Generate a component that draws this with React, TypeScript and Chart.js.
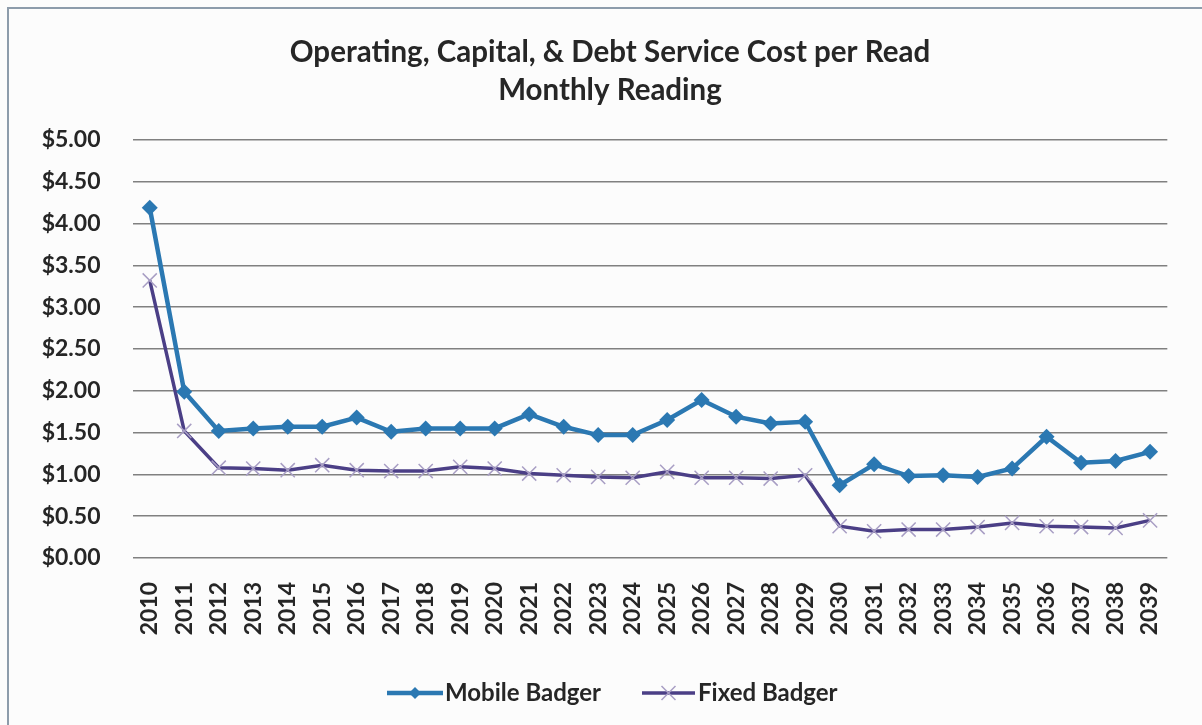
import React, { useEffect, useRef } from "react";
import { Chart, registerables } from "chart.js";

Chart.register(...registerables);

const years: string[] = [
  "2010", "2011", "2012", "2013", "2014", "2015", "2016", "2017", "2018", "2019",
  "2020", "2021", "2022", "2023", "2024", "2025", "2026", "2027", "2028", "2029",
  "2030", "2031", "2032", "2033", "2034", "2035", "2036", "2037", "2038", "2039",
];

const mobileBadger: number[] = [
  4.19, 1.99, 1.52, 1.55, 1.57, 1.57, 1.68, 1.51, 1.55, 1.55,
  1.55, 1.72, 1.57, 1.47, 1.47, 1.65, 1.89, 1.69, 1.61, 1.63,
  0.87, 1.12, 0.98, 0.99, 0.97, 1.07, 1.45, 1.14, 1.16, 1.27,
];

const fixedBadger: number[] = [
  3.32, 1.52, 1.08, 1.07, 1.05, 1.11, 1.05, 1.04, 1.04, 1.09,
  1.07, 1.01, 0.99, 0.97, 0.96, 1.03, 0.96, 0.96, 0.95, 0.99,
  0.38, 0.32, 0.34, 0.34, 0.37, 0.42, 0.38, 0.37, 0.36, 0.45,
];

const titleLines: string[] = [
  "Operating, Capital, & Debt Service Cost per Read",
  "Monthly Reading",
];

const MOBILE_COLOR = "#2b78b2";
const FIXED_LINE = "#4b3f86";
const FIXED_MARK = "#a89ec4";
const TEXT = "#262626";
const FONT = "Lato, 'Open Sans', sans-serif";

const framePlugin = {
  id: "frame",
  beforeDraw(chart: any) {
    const ctx = chart.ctx;
    ctx.save();
    ctx.fillStyle = "#fcfcfc";
    ctx.fillRect(0, 0, chart.width, chart.height);
    ctx.strokeStyle = "#8d9cab";
    ctx.lineWidth = 2;
    ctx.beginPath();
    ctx.moveTo(8, chart.height);
    ctx.lineTo(8, 8);
    ctx.lineTo(chart.width, 8);
    ctx.stroke();
    ctx.restore();
  },
};

const titlePlugin = {
  id: "customTitle",
  afterDraw(chart: any) {
    const ctx = chart.ctx;
    ctx.save();
    ctx.fillStyle = TEXT;
    ctx.font = `bold 29.5px ${FONT}`;
    ctx.textAlign = "center";
    ctx.textBaseline = "middle";
    titleLines.forEach((line, i) => {
      ctx.fillText(line, 610, 52 + i * 38);
    });
    ctx.restore();
  },
};

const legendPlugin = {
  id: "customLegend",
  afterDraw(chart: any) {
    const ctx = chart.ctx;
    const y = 693;
    const items = [
      { x0: 387, x1: 443, tx: 445, ds: chart.data.datasets[0], kind: "diamond" },
      { x0: 642, x1: 695, tx: 698, ds: chart.data.datasets[1], kind: "cross" },
    ];
    ctx.save();
    for (const it of items) {
      ctx.strokeStyle = it.ds.borderColor;
      ctx.lineWidth = it.ds.borderWidth;
      ctx.beginPath();
      ctx.moveTo(it.x0, y);
      ctx.lineTo(it.x1, y);
      ctx.stroke();
      const cx = (it.x0 + it.x1) / 2;
      if (it.kind === "diamond") {
        ctx.fillStyle = it.ds.borderColor;
        ctx.beginPath();
        ctx.moveTo(cx, y - 6);
        ctx.lineTo(cx + 6, y);
        ctx.lineTo(cx, y + 6);
        ctx.lineTo(cx - 6, y);
        ctx.closePath();
        ctx.fill();
      } else {
        ctx.strokeStyle = FIXED_MARK;
        ctx.lineWidth = 1.5;
        ctx.beginPath();
        ctx.moveTo(cx - 7, y - 7);
        ctx.lineTo(cx + 7, y + 7);
        ctx.moveTo(cx + 7, y - 7);
        ctx.lineTo(cx - 7, y + 7);
        ctx.stroke();
      }
      ctx.fillStyle = TEXT;
      ctx.font = `bold 24px ${FONT}`;
      ctx.textAlign = "left";
      ctx.textBaseline = "middle";
      ctx.fillText(it.ds.label, it.tx, y);
    }
    ctx.restore();
  },
};

export default function App() {
  const ref = useRef<HTMLCanvasElement | null>(null);

  useEffect(() => {
    if (!ref.current) return;
    const chart = new Chart(ref.current, {
      type: "line",
      data: {
        labels: years,
        datasets: [
          {
            label: "Mobile Badger",
            data: mobileBadger,
            borderColor: MOBILE_COLOR,
            backgroundColor: MOBILE_COLOR,
            borderWidth: 4.5,
            pointStyle: "rectRot",
            pointRadius: 8,
            pointBorderWidth: 0,
            pointBackgroundColor: MOBILE_COLOR,
            tension: 0,
          },
          {
            label: "Fixed Badger",
            data: fixedBadger,
            borderColor: FIXED_LINE,
            backgroundColor: FIXED_LINE,
            borderWidth: 3.5,
            pointStyle: "crossRot",
            pointRadius: 10,
            pointBorderWidth: 1.5,
            pointBorderColor: FIXED_MARK,
            tension: 0,
          },
        ],
      },
      options: {
        animation: false,
        responsive: false,
        maintainAspectRatio: false,
        layout: { padding: { left: 0, right: 19.5, top: 140, bottom: 0 } },
        plugins: {
          legend: { display: false },
          tooltip: { enabled: false },
          title: { display: false },
        },
        scales: {
          x: {
            offset: true,
            grid: { display: false, drawTicks: false },
            border: { display: false },
            ticks: {
              color: TEXT,
              font: { family: FONT, size: 23, weight: "bold" },
              minRotation: 90,
              maxRotation: 90,
              autoSkip: false,
              padding: 24,
            },
            afterFit(scale: any) {
              scale.height = 167;
            },
          },
          y: {
            min: 0,
            max: 5,
            grid: { color: "#808080", lineWidth: 1.5, drawTicks: false },
            border: { display: false },
            ticks: {
              stepSize: 0.5,
              color: TEXT,
              font: { family: FONT, size: 23, weight: "bold" },
              padding: 32,
              callback: (v: any) => "$" + Number(v).toFixed(2),
            },
            afterFit(scale: any) {
              scale.width = 132.5;
            },
          },
        },
      },
      plugins: [framePlugin, titlePlugin, legendPlugin],
    });
    return () => chart.destroy();
  }, []);

  return (
    <div style={{ position: "absolute", left: 0, top: 0, width: 1202, height: 725 }}>
      <canvas ref={ref} width={1202} height={725} style={{ display: "block" }} />
    </div>
  );
}
